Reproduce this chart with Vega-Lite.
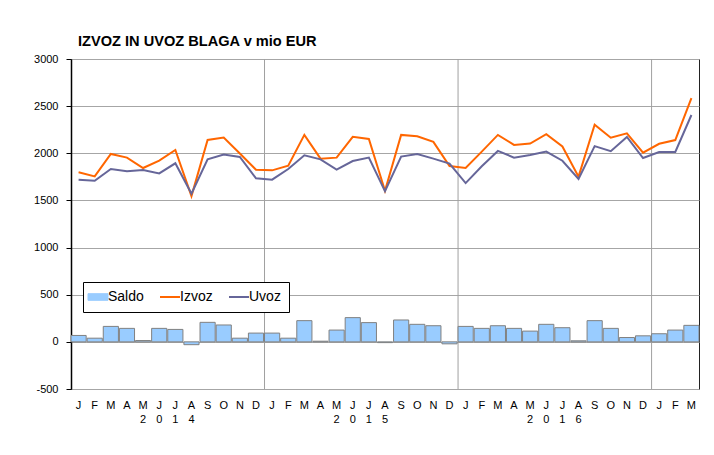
{
  "$schema": "https://vega.github.io/schema/vega-lite/v6.json",
  "width": 628,
  "height": 330,
  "autosize": "none",
  "padding": {"left": 71, "top": 59, "right": 15, "bottom": 66},
  "background": "white",
  "config": {
    "font": "Liberation Sans",
    "view": {"stroke": "#222222", "strokeWidth": 1},
    "axis": {"labelFont": "Liberation Sans", "labelColor": "black", "labelFontSize": 11}
  },
  "title": {
    "text": "IZVOZ IN UVOZ BLAGA v mio EUR",
    "anchor": "start",
    "frame": "group",
    "dx": 7,
    "offset": 4,
    "fontSize": 14.6,
    "fontWeight": "bold",
    "font": "Liberation Sans",
    "color": "black"
  },
  "datasets": {
    "main": [
      {"d": "2014-01", "Izvoz": 1798, "Uvoz": 1720, "Saldo": 68},
      {"d": "2014-02", "Izvoz": 1755, "Uvoz": 1709, "Saldo": 39},
      {"d": "2014-03", "Izvoz": 1993, "Uvoz": 1833, "Saldo": 164},
      {"d": "2014-04", "Izvoz": 1954, "Uvoz": 1809, "Saldo": 143},
      {"d": "2014-05", "Izvoz": 1844, "Uvoz": 1823, "Saldo": 14},
      {"d": "2014-06", "Izvoz": 1922, "Uvoz": 1787, "Saldo": 143},
      {"d": "2014-07", "Izvoz": 2035, "Uvoz": 1894, "Saldo": 132},
      {"d": "2014-08", "Izvoz": 1546, "Uvoz": 1571, "Saldo": -30},
      {"d": "2014-09", "Izvoz": 2142, "Uvoz": 1936, "Saldo": 207},
      {"d": "2014-10", "Izvoz": 2167, "Uvoz": 1986, "Saldo": 179},
      {"d": "2014-11", "Izvoz": 1998, "Uvoz": 1961, "Saldo": 39},
      {"d": "2014-12", "Izvoz": 1826, "Uvoz": 1734, "Saldo": 93},
      {"d": "2015-01", "Izvoz": 1819, "Uvoz": 1720, "Saldo": 93},
      {"d": "2015-02", "Izvoz": 1869, "Uvoz": 1833, "Saldo": 39},
      {"d": "2015-03", "Izvoz": 2195, "Uvoz": 1979, "Saldo": 225},
      {"d": "2015-04", "Izvoz": 1943, "Uvoz": 1936, "Saldo": 7},
      {"d": "2015-05", "Izvoz": 1954, "Uvoz": 1826, "Saldo": 125},
      {"d": "2015-06", "Izvoz": 2174, "Uvoz": 1918, "Saldo": 257},
      {"d": "2015-07", "Izvoz": 2152, "Uvoz": 1954, "Saldo": 204},
      {"d": "2015-08", "Izvoz": 1602, "Uvoz": 1599, "Saldo": -8},
      {"d": "2015-09", "Izvoz": 2195, "Uvoz": 1965, "Saldo": 232},
      {"d": "2015-10", "Izvoz": 2181, "Uvoz": 1993, "Saldo": 186},
      {"d": "2015-11", "Izvoz": 2121, "Uvoz": 1943, "Saldo": 171},
      {"d": "2015-12", "Izvoz": 1865, "Uvoz": 1890, "Saldo": -21},
      {"d": "2016-01", "Izvoz": 1844, "Uvoz": 1684, "Saldo": 164},
      {"d": "2016-02", "Izvoz": 2018, "Uvoz": 1862, "Saldo": 143},
      {"d": "2016-03", "Izvoz": 2195, "Uvoz": 2025, "Saldo": 171},
      {"d": "2016-04", "Izvoz": 2089, "Uvoz": 1954, "Saldo": 143},
      {"d": "2016-05", "Izvoz": 2103, "Uvoz": 1982, "Saldo": 114},
      {"d": "2016-06", "Izvoz": 2202, "Uvoz": 2018, "Saldo": 186},
      {"d": "2016-07", "Izvoz": 2072, "Uvoz": 1921, "Saldo": 150},
      {"d": "2016-08", "Izvoz": 1752, "Uvoz": 1727, "Saldo": 11},
      {"d": "2016-09", "Izvoz": 2302, "Uvoz": 2076, "Saldo": 225},
      {"d": "2016-10", "Izvoz": 2165, "Uvoz": 2022, "Saldo": 143},
      {"d": "2016-11", "Izvoz": 2212, "Uvoz": 2173, "Saldo": 46},
      {"d": "2016-12", "Izvoz": 2007, "Uvoz": 1950, "Saldo": 64},
      {"d": "2017-01", "Izvoz": 2101, "Uvoz": 2014, "Saldo": 86},
      {"d": "2017-02", "Izvoz": 2140, "Uvoz": 2014, "Saldo": 125},
      {"d": "2017-03", "Izvoz": 2586, "Uvoz": 2406, "Saldo": 175}
    ],
    "years": [
      {"d": "2015-01"},
      {"d": "2016-01"},
      {"d": "2017-01"}
    ],
    "yearLabels": [
      {"d": "2014-05", "t": "2", "pos": -825},
      {"d": "2014-06", "t": "0", "pos": -825},
      {"d": "2014-07", "t": "1", "pos": -825},
      {"d": "2014-08", "t": "4", "pos": -825},
      {"d": "2015-05", "t": "2", "pos": -825},
      {"d": "2015-06", "t": "0", "pos": -825},
      {"d": "2015-07", "t": "1", "pos": -825},
      {"d": "2015-08", "t": "5", "pos": -825},
      {"d": "2016-05", "t": "2", "pos": -825},
      {"d": "2016-06", "t": "0", "pos": -825},
      {"d": "2016-07", "t": "1", "pos": -825},
      {"d": "2016-08", "t": "6", "pos": -825}
    ]
  },
  "encoding": {
    "x": {
      "field": "d",
      "type": "ordinal",
      "title": null,
      "scale": {"paddingInner": 0.06, "paddingOuter": 0.0},
      "axis": {
        "labelExpr": "['J','F','M','A','M','J','J','A','S','O','N','D'][toNumber(substring(datum.value,5,7))-1]",
        "labelAngle": 0,
        "ticks": false,
        "domain": false,
        "grid": false,
        "labelPadding": 10,
        "labelFontSize": 11
      }
    }
  },
  "layer": [
    {
      "data": {"name": "years"},
      "mark": {"type": "rule", "color": "#A0A0A0", "strokeWidth": 1},
      "encoding": {
        "x": {"field": "d", "type": "ordinal", "bandPosition": 0}
      }
    },
    {
      "data": {"name": "main"},
      "transform": [{"fold": ["Saldo"], "as": ["series", "v"]}],
      "mark": {"type": "bar"},
      "encoding": {
        "y": {
          "field": "v",
          "type": "quantitative",
          "title": null,
          "scale": {"domain": [-500, 3000], "nice": false},
          "axis": {
            "values": [-500, 0, 500, 1000, 1500, 2000, 2500, 3000],
            "labelExpr": "'' + datum.value",
            "gridColor": "#A6A6A6",
            "gridWidth": 1,
            "domainColor": "black",
            "domainWidth": 1.5,
            "tickColor": "black",
            "tickSize": 5,
            "labelPadding": 8,
            "labelFontSize": 11
          }
        },
        "color": {
          "field": "series",
          "type": "nominal",
          "scale": {"domain": ["Saldo", "Izvoz", "Uvoz"], "range": ["#99CCFF", "#FF6600", "#666699"]},
          "legend": {
            "title": null,
            "orient": "none",
            "legendX": 12,
            "legendY": 223,
            "direction": "horizontal",
            "strokeColor": "black",
            "fillColor": "white",
            "padding": 8,
            "symbolSize": 400,
            "symbolType": {"expr": "datum.value === 'Saldo' ? 'M-1,-0.33H1V0.33H-1Z' : 'stroke'"},
            "symbolStrokeWidth": {"expr": "datum.value === 'Saldo' ? 1 : 2"},
            "symbolOpacity": 1,
            "labelFontSize": 14,
            "labelFont": "Liberation Sans",
            "labelColor": "black",
            "labelOffset": 3,
            "columnPadding": 12
          }
        }
      }
    },
    {
      "data": {"name": "main"},
      "transform": [{"fold": ["Saldo"], "as": ["series", "v"]}],
      "mark": {"type": "bar", "fill": "transparent", "stroke": "#808080", "strokeWidth": 1},
      "encoding": {
        "y": {"field": "v", "type": "quantitative"}
      }
    },
    {
      "mark": {"type": "rule", "color": "black", "strokeWidth": 1},
      "encoding": {"y": {"datum": 0, "type": "quantitative"}}
    },
    {
      "data": {"name": "main"},
      "transform": [{"fold": ["Izvoz", "Uvoz"], "as": ["series", "v"]}],
      "mark": {"type": "line", "strokeWidth": 2},
      "encoding": {
        "y": {"field": "v", "type": "quantitative"},
        "color": {"field": "series", "type": "nominal"}
      }
    },
    {
      "data": {"name": "yearLabels"},
      "mark": {"type": "text", "fontSize": 11, "font": "Liberation Sans", "color": "black", "baseline": "middle", "align": "center"},
      "encoding": {
        "x": {"field": "d", "type": "ordinal"},
        "y": {"field": "pos", "type": "quantitative"},
        "text": {"field": "t"}
      }
    }
  ]
}
